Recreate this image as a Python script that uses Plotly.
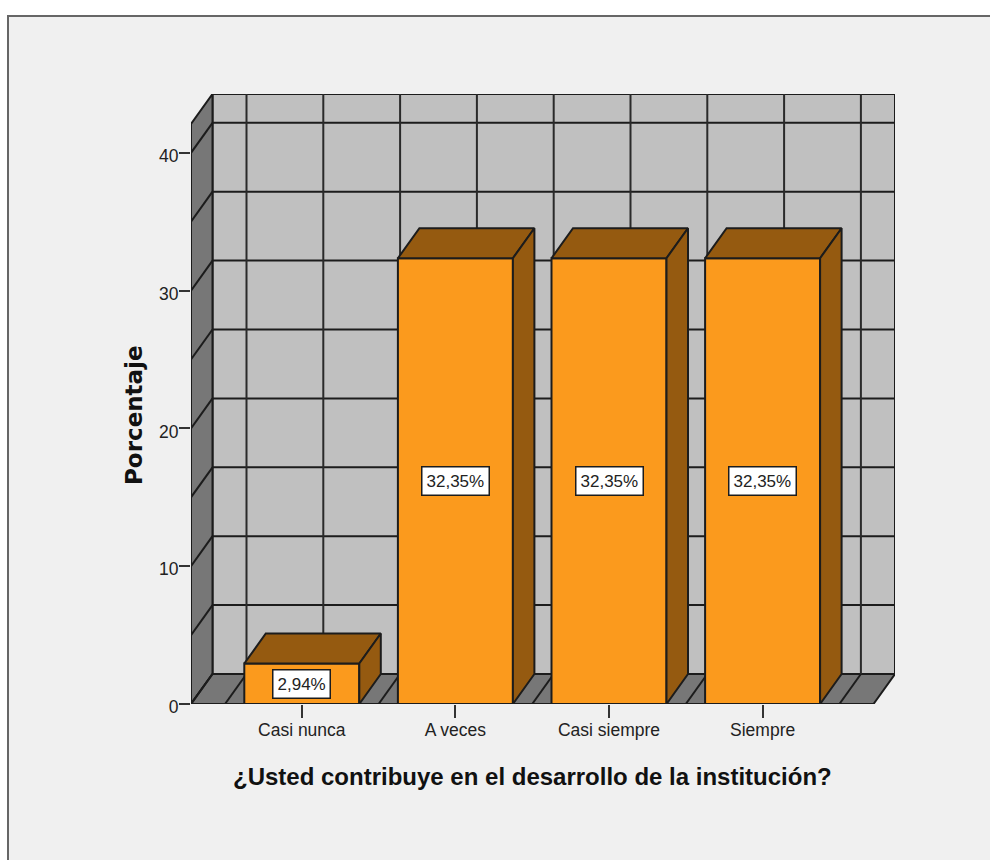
import plotly.graph_objects as go

categories = ["Casi nunca", "A veces", "Casi siempre", "Siempre"]
values = [2.94, 32.35, 32.35, 32.35]
value_labels = ["2,94%", "32,35%", "32,35%", "32,35%"]
y_ticks = [0, 10, 20, 30, 40]
grid_levels = [0, 5, 10, 15, 20, 25, 30, 35, 40]
grid_columns = [-0.5, 0, 0.5, 1, 1.5, 2, 2.5, 3, 3.5]
x_title = "¿Usted contribuye en el desarrollo de la institución?"
y_title = "Porcentaje"

# page geometry (pixels)
W, H = 990, 860
L, R, T, B = 191, 895, 94, 704
PX_PER_CAT = 153.6
PX_PER_UNIT = 13.78
CAT0_PX = 301.8
DX_PX, DY_PX = 21.5, 30

dx = DX_PX / PX_PER_CAT
dy = DY_PX / PX_PER_UNIT
x_min = (L - CAT0_PX) / PX_PER_CAT
x_max = (R - CAT0_PX) / PX_PER_CAT
y_max = (B - T) / PX_PER_UNIT
bar_w = 115 / PX_PER_CAT

INK = "#1c1c1c"
WALL = "#c0c0c0"
DARK = "#777777"
ORANGE = "#fb9a1d"
BROWN = "#955a10"
PAGE = "#f0f0f0"


def px(v):
    return (v - L) / (R - L)


def py(v):
    return (B - v) / (B - T)


def poly(points):
    return "M " + " L ".join(f"{a},{b}" for a, b in points) + " Z"


x_front_end = x_max - dx
y_front_top = y_max - dy

shapes = [
    # page panel and its frame
    dict(type="rect", xref="paper", yref="paper", x0=px(8), x1=px(W + 10), y0=py(16), y1=py(H + 10),
         fillcolor=PAGE, line=dict(color="#666666", width=2), layer="below"),
    # back wall
    dict(type="path", path=poly([(x_min + dx, dy), (x_max, dy), (x_max, y_max), (x_min + dx, y_max)]),
         fillcolor=WALL, line=dict(color=INK, width=2), layer="below"),
    # left wall
    dict(type="path", path=poly([(x_min, 0), (x_min + dx, dy), (x_min + dx, y_max), (x_min, y_front_top)]),
         fillcolor=DARK, line=dict(color=INK, width=2), layer="below"),
    # floor
    dict(type="path", path=poly([(x_min, 0), (x_min + dx, dy), (x_max, dy), (x_front_end, 0)]),
         fillcolor=DARK, line=dict(color=INK, width=2), layer="below"),
]
for level in grid_levels:
    shapes.append(dict(type="line", x0=x_min + dx, x1=x_max, y0=level + dy, y1=level + dy,
                       line=dict(color=INK, width=2), layer="below"))
    shapes.append(dict(type="line", x0=x_min, x1=x_min + dx, y0=level, y1=level + dy,
                       line=dict(color=INK, width=2), layer="below"))
for col in grid_columns:
    shapes.append(dict(type="line", x0=col + dx, x1=col + dx, y0=dy, y1=y_max,
                       line=dict(color="#2a2a2a", width=2), layer="below"))
    shapes.append(dict(type="line", x0=col, x1=col + dx, y0=0, y1=dy,
                       line=dict(color=INK, width=2), layer="below"))

fig = go.Figure()
fig.add_trace(go.Bar(x=list(range(len(categories))), y=values, width=bar_w,
                     marker=dict(color=ORANGE, line=dict(color=INK, width=2)),
                     hoverinfo="skip", showlegend=False))

for i, v in enumerate(values):
    left, right = i - bar_w / 2, i + bar_w / 2
    fig.add_trace(go.Scatter(x=[left, right, right + dx, left + dx, left],
                             y=[v, v, v + dy, v + dy, v],
                             mode="lines", fill="toself", fillcolor=BROWN,
                             line=dict(color=INK, width=2), hoverinfo="skip", showlegend=False))
    fig.add_trace(go.Scatter(x=[right, right + dx, right + dx, right, right],
                             y=[0, dy, v + dy, v, 0],
                             mode="lines", fill="toself", fillcolor=BROWN,
                             line=dict(color=INK, width=2), hoverinfo="skip", showlegend=False))

annotations = [
    dict(x=i, y=v / 2, text=t, showarrow=False, bgcolor="white", bordercolor=INK, borderwidth=1.5,
         borderpad=4, font=dict(family="Liberation Sans", size=17, color="#222222"))
    for i, (v, t) in enumerate(zip(values, value_labels))
]
annotations += [
    dict(xref="paper", yref="paper", x=px(532.5), y=py(776), xanchor="center", yanchor="middle",
         text=f"<b>{x_title}</b>", showarrow=False,
         font=dict(family="Liberation Sans", size=24, color="#111111")),
    dict(xref="paper", yref="paper", x=px(134), y=py(415), xanchor="center", yanchor="middle",
         text=f"<b>{y_title}</b>", textangle=-90,
         showarrow=False, font=dict(family="DejaVu Sans", size=23, color="#111111")),
]

fig.update_layout(
    width=W, height=H,
    margin=dict(l=L, r=W - R, t=T, b=H - B, pad=0),
    paper_bgcolor="white", plot_bgcolor="rgba(0,0,0,0)",
    shapes=shapes, annotations=annotations, showlegend=False,
    xaxis=dict(range=[x_min, x_max], tickmode="array", tickvals=list(range(len(categories))),
               ticktext=categories, ticks="outside", ticklen=13, tickwidth=2, tickcolor="#333333",
               ticklabelstandoff=-3,
               showgrid=False, zeroline=False, showline=False, fixedrange=True,
               tickfont=dict(family="Liberation Sans", size=17.5, color="#222222")),
    yaxis=dict(range=[0, y_max], tickmode="array", tickvals=y_ticks, ticktext=[str(t) for t in y_ticks],
               ticks="outside", ticklen=11, tickwidth=2, tickcolor="#333333",
               ticklabelshift=3, ticklabelstandoff=-3,
               showgrid=False, zeroline=False, showline=False, fixedrange=True,
               tickfont=dict(family="Liberation Sans", size=17.5, color="#222222")),
)

fig.write_html("out.html", config=dict(displayModeBar=False),
               post_script="document.body.style.margin='0';document.body.style.overflow='hidden';")
